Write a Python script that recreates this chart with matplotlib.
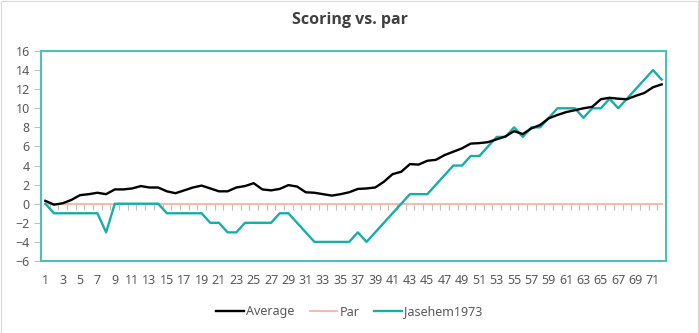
"""Scoring vs. par line chart (Excel-style) rendered with matplotlib."""
import matplotlib
matplotlib.use("Agg")
import matplotlib.pyplot as plt
from matplotlib.patches import Rectangle

plt.rcParams["font.family"] = ["Noto Sans", "DejaVu Sans"]

holes = list(range(1, 73))

average = [
    0.3, -0.1, 0.05, 0.4, 0.9, 1.0, 1.15, 1.0, 1.5, 1.5,
    1.6, 1.85, 1.7, 1.7, 1.3, 1.1, 1.4, 1.7, 1.9, 1.6,
    1.3, 1.3, 1.7, 1.85, 2.15, 1.5, 1.4, 1.55, 1.95, 1.8,
    1.2, 1.15, 1.0, 0.85, 1.0, 1.2, 1.55, 1.6, 1.7, 2.3,
    3.1, 3.35, 4.15, 4.1, 4.5, 4.6, 5.1, 5.45, 5.8, 6.3,
    6.35, 6.45, 6.75, 7.05, 7.6, 7.3, 7.9, 8.25, 8.95, 9.3,
    9.6, 9.8, 10.0, 10.15, 10.95, 11.1, 11.0, 10.95, 11.3, 11.6,
    12.2, 12.5,
]

par = [0] * 72

jasehem = [
    0, -1, -1, -1, -1, -1, -1, -3, 0, 0,
    0, 0, 0, 0, -1, -1, -1, -1, -1, -2,
    -2, -3, -3, -2, -2, -2, -2, -1, -1, -2,
    -3, -4, -4, -4, -4, -4, -3, -4, -3, -2,
    -1, 0, 1, 1, 1, 2, 3, 4, 4, 5,
    5, 6, 7, 7, 8, 7, 8, 8, 9, 10,
    10, 10, 9, 10, 10, 11, 10, 11, 12, 13,
    14, 13,
]

y_ticks = list(range(-6, 17, 2))
x_labels = [h for h in holes if h % 2 == 1]

TEAL = "#17ADA8"
BORDER = "#4BBFBA"
PAR_COLOR = "#F5B4A2"
TEXT = "#595959"

fig = plt.figure(figsize=(6.99, 3.33), dpi=100)
ax = fig.add_axes([41 / 699, 1 - 261 / 333, 625 / 699, 210 / 333])

ax.plot(holes, average, color="black", linewidth=1.7, label="Average", zorder=4)
ax.plot(holes, par, color=PAR_COLOR, linewidth=1.3, label="Par", zorder=2)
ax.plot(holes, jasehem, color=TEAL, linewidth=1.7, label="Jasehem1973", zorder=3)

ax.set_xlim(0.5, 72.5)
ax.set_ylim(-6, 16)
ax.set_yticks(y_ticks)
ax.set_xticks(x_labels)
ax.set_xticklabels([str(h) for h in x_labels])

ax.tick_params(axis="y", length=5, width=0.8, color="#BFBFBF",
               labelsize=9, labelcolor=TEXT, pad=3)
ax.tick_params(axis="x", length=0, labelsize=9, labelcolor=TEXT, pad=9)

for side in ax.spines.values():
    side.set_color(BORDER)
    side.set_linewidth(1.5)

# category boundary ticks hang from the zero line
zero_axis = ax.secondary_xaxis(0, transform=ax.transData)
zero_axis.spines["bottom"].set_visible(False)
zero_axis.set_xticks([h + 0.5 for h in holes[:-1]])
zero_axis.tick_params(axis="x", length=4, width=0.8, color="#BFBFBF",
                      labelbottom=False)

fig.text(0.5, 1 - 20 / 333, "Scoring vs. par", ha="center", va="center",
         fontsize=11.5, fontweight="bold", color="#404040",
         family=["Open Sans", "DejaVu Sans"])

fig.legend(loc="center", bbox_to_anchor=(0.5, 1 - 312 / 333), ncol=3,
           frameon=False, fontsize=9, labelcolor=TEXT, handlelength=2.2,
           handletextpad=0.2, columnspacing=1.2)

fig.patches.append(Rectangle((0.5 / 699, 0.5 / 333), 697.5 / 699, 331.5 / 333,
                             transform=fig.transFigure, fill=False,
                             edgecolor="#D9D9D9", linewidth=0.8))

fig.savefig("out.png", dpi=100)
plt.close(fig)
